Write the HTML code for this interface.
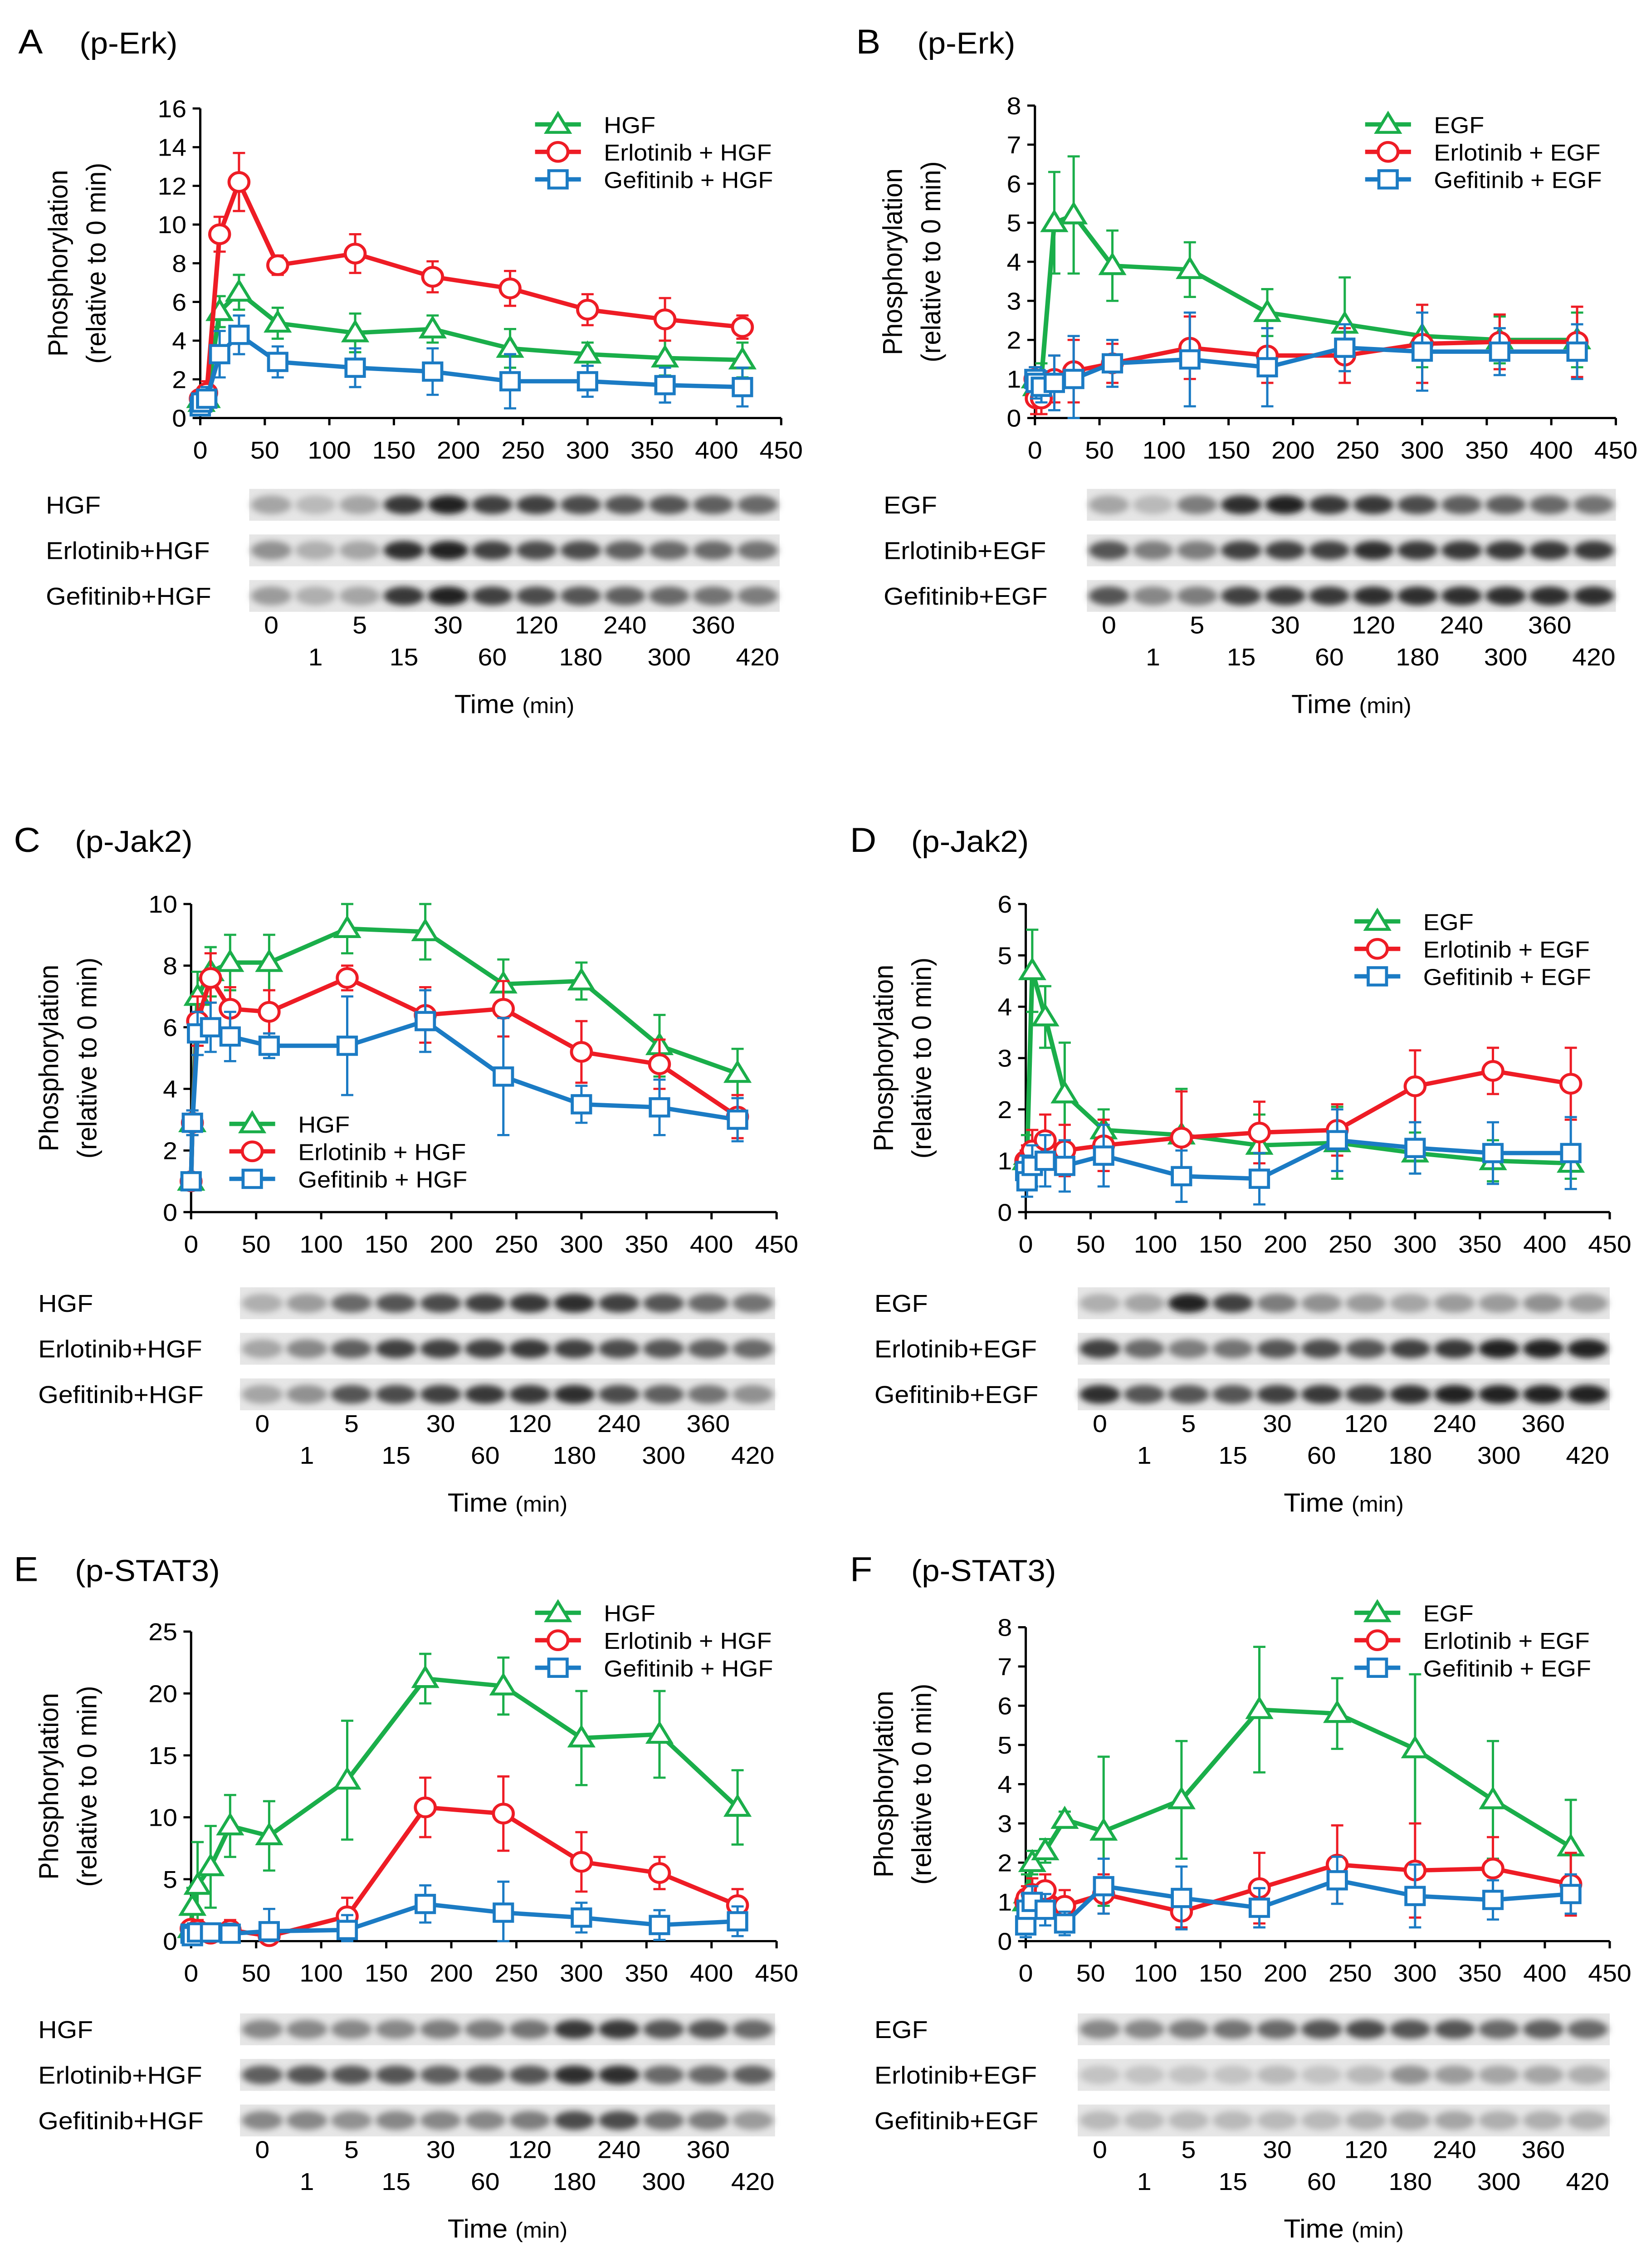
<!DOCTYPE html>
<html><head><meta charset="utf-8"><style>
html,body{margin:0;padding:0;background:#fff;width:100vw;height:100vh;overflow:hidden}
svg{display:block;position:fixed;left:0;top:0;width:100vw;height:100vh}
text{font-family:"Liberation Sans",Arial,sans-serif;fill:#000}
</style></head><body>
<svg id="fig" viewBox="0 0 1080 1568" preserveAspectRatio="none" xmlns="http://www.w3.org/2000/svg">
<defs><filter id="blur" x="-50%" y="-50%" width="200%" height="200%"><feGaussianBlur stdDeviation="2.2"/></filter></defs>
</svg>
<script>
const times=[0,1,5,15,30,60,120,180,240,300,360,420];
const xTicks=[0,50,100,150,200,250,300,350,400,450];
// Panel A
const aHGF=[1,0.8,1.0,5.5,6.5,4.9,4.4,4.6,3.6,3.3,3.1,3.0];
const aHGFerr=[0.3,0.4,0.5,0.8,0.9,0.8,1.0,0.7,1.0,0.6,0.9,0.9];
const aErl=[1,0.9,1.3,9.5,12.2,7.9,8.5,7.3,6.7,5.6,5.1,4.7];
const aErlerr=[0.3,0.4,0.6,0.9,1.5,0.5,1.0,0.8,0.9,0.8,1.1,0.6];
const aGef=[0.6,0.8,1.0,3.3,4.3,2.9,2.6,2.4,1.9,1.9,1.7,1.6];
const aGeferr=[0.4,0.5,0.6,1.2,1.0,0.8,1.0,1.2,1.4,0.8,0.9,1.0];
// Panel B
const bEGF=[1,0.8,1.0,5.0,5.2,3.9,3.8,2.7,2.4,2.1,2.0,2.0];
const bEGFerr=[0.2,0.3,0.4,1.3,1.5,0.9,0.7,0.6,1.2,0.8,0.6,0.7];
const bErl=[1,0.5,0.5,1.0,1.2,1.4,1.8,1.6,1.6,1.9,1.95,1.95];
const bErlerr=[0.3,0.4,0.4,0.6,0.8,0.5,0.8,0.7,0.7,1.0,0.7,0.9];
const bGef=[1,0.9,0.8,0.9,1.0,1.4,1.5,1.3,1.8,1.7,1.7,1.7];
const bGeferr=[0.3,0.4,0.4,0.7,1.1,0.6,1.2,1.0,0.6,1.0,0.6,0.7];
// Panel C
const cHGF=[1,2.9,7.0,7.8,8.1,8.1,9.2,9.1,7.4,7.5,5.4,4.5];
const cHGFerr=[0.1,0.4,0.8,0.8,0.9,0.9,0.8,0.9,0.8,0.6,1.0,0.8];
const cErl=[1,2.9,6.2,7.6,6.6,6.5,7.6,6.4,6.6,5.2,4.8,3.1];
const cErlerr=[0.1,0.4,0.8,0.8,0.7,0.7,0.4,0.9,0.9,1.0,0.8,0.7];
const cGef=[1,2.9,5.8,6.0,5.7,5.4,5.4,6.2,4.4,3.5,3.4,3.0];
const cGeferr=[0.1,0.4,0.7,0.8,0.8,0.4,1.6,1.0,1.9,0.6,0.9,0.7];
// Panel D
const dEGF=[1,1.1,4.7,3.8,2.3,1.6,1.5,1.3,1.35,1.15,1.0,0.95];
const dEGFerr=[0.2,0.4,0.8,0.6,1.0,0.4,0.9,0.6,0.7,0.4,0.4,0.3];
const dErl=[1,1.0,1.2,1.4,1.2,1.3,1.45,1.55,1.6,2.45,2.75,2.5];
const dErlerr=[0.2,0.3,0.4,0.5,0.5,0.5,0.9,0.6,0.5,0.7,0.45,0.7];
const dGef=[0.8,0.6,0.9,1.0,0.9,1.1,0.7,0.65,1.4,1.25,1.15,1.15];
const dGeferr=[0.3,0.3,0.4,0.5,0.5,0.6,0.5,0.5,0.6,0.5,0.6,0.7];
// Panel E
const eHGF=[1,2.8,4.5,6.0,9.3,8.5,13.0,21.2,20.6,16.4,16.7,10.8];
const eHGFerr=[0.5,1.5,3.5,3.3,2.5,2.8,4.8,2.0,2.3,3.8,3.5,3.0];
const eErl=[1,0.6,0.9,0.6,0.9,0.4,2.0,10.8,10.3,6.4,5.5,2.9];
const eErlerr=[0.5,0.6,0.8,0.6,0.8,0.5,1.5,2.4,3.0,2.4,1.3,1.3];
const eGef=[0.6,0.4,0.7,0.7,0.6,0.8,0.9,3.0,2.3,1.9,1.3,1.6];
const eGeferr=[0.4,0.4,0.6,0.7,0.8,1.8,1.2,1.5,2.5,1.2,1.2,1.2];
// Panel F
const fEGF=[1,1.2,2.0,2.3,3.1,2.8,3.6,5.9,5.8,4.9,3.6,2.4];
const fEGFerr=[0.3,0.5,0.3,0.3,0.2,1.9,1.5,1.6,0.9,1.9,1.5,1.2];
const fErl=[1,1.1,1.2,1.3,0.9,1.2,0.75,1.35,1.95,1.8,1.85,1.45];
const fErlerr=[0.3,0.3,0.4,0.4,0.4,0.5,0.4,0.9,1.0,1.2,0.8,0.8];
const fGef=[0.4,0.8,1.0,0.8,0.45,1.4,1.1,0.85,1.55,1.15,1.05,1.2];
const fGeferr=[0.3,0.4,0.4,0.4,0.3,0.7,0.8,0.5,0.6,0.8,0.5,0.5];
// Blot intensities (0 light - 1 dark)
const blotA=[[0.3,0.2,0.3,0.85,0.95,0.8,0.8,0.75,0.7,0.7,0.65,0.6],[0.4,0.25,0.3,0.9,0.95,0.8,0.75,0.75,0.65,0.6,0.6,0.55],[0.35,0.25,0.3,0.85,0.95,0.8,0.75,0.7,0.65,0.6,0.55,0.5]];
const blotB=[[0.3,0.2,0.5,0.9,0.95,0.85,0.85,0.75,0.65,0.65,0.6,0.55],[0.7,0.5,0.5,0.8,0.8,0.8,0.9,0.85,0.85,0.85,0.85,0.85],[0.7,0.45,0.5,0.8,0.85,0.85,0.9,0.9,0.9,0.9,0.9,0.9]];
const blotC=[[0.25,0.35,0.6,0.7,0.75,0.8,0.85,0.9,0.8,0.7,0.6,0.55],[0.3,0.45,0.65,0.8,0.8,0.8,0.85,0.8,0.75,0.7,0.65,0.6],[0.3,0.4,0.7,0.75,0.8,0.85,0.85,0.9,0.75,0.65,0.55,0.4]];
const blotD=[[0.25,0.3,0.95,0.8,0.5,0.4,0.35,0.3,0.35,0.35,0.4,0.35],[0.8,0.6,0.5,0.55,0.7,0.75,0.7,0.8,0.85,0.95,0.95,0.95],[0.9,0.7,0.7,0.7,0.8,0.85,0.8,0.9,0.95,0.95,0.95,0.95]];
const blotE=[[0.45,0.45,0.45,0.45,0.5,0.5,0.55,0.85,0.85,0.7,0.7,0.6],[0.65,0.7,0.7,0.7,0.65,0.65,0.7,0.9,0.9,0.6,0.6,0.65],[0.45,0.45,0.4,0.45,0.45,0.45,0.5,0.75,0.75,0.55,0.5,0.35]];
const blotF=[[0.45,0.45,0.5,0.55,0.6,0.7,0.75,0.7,0.7,0.6,0.65,0.6],[0.15,0.15,0.15,0.15,0.2,0.15,0.2,0.4,0.35,0.3,0.3,0.25],[0.2,0.2,0.2,0.2,0.2,0.2,0.25,0.3,0.3,0.25,0.25,0.25]];
const lanes1=["0","5","30","120","240","360"];
const lanes2=["1","15","60","180","300","420"];

const NS="http://www.w3.org/2000/svg";
const svg=document.getElementById('fig');
const COL={g:"#1aae4a",r:"#ee1c25",b:"#1b7bc4"};
function mk(tag,attrs,parent){const e=document.createElementNS(NS,tag);for(const k in attrs)e.setAttribute(k,attrs[k]);(parent||svg).appendChild(e);return e;}
function txt(s,x,y,size,anchor,parent){const t=mk('text',{x:x,y:y,'font-size':size,'text-anchor':anchor||'start'},parent);t.textContent=s;return t;}
function marker(type,x,y,c,g){
  if(type==='tri')return mk('polygon',{points:`${x},${y-7.5} ${x-7.5},${y+5.5} ${x+7.5},${y+5.5}`,fill:'#fff',stroke:c,'stroke-width':2},g);
  if(type==='cir')return mk('circle',{cx:x,cy:y,r:6.5,fill:'#fff',stroke:c,'stroke-width':2},g);
  return mk('rect',{x:x-6,y:y-6,width:12,height:12,fill:'#fff',stroke:c,'stroke-width':2},g);
}
function panel(p){
  const g=mk('g',{}); 
  
  const X=v=>p.x0+(p.x1-p.x0)*v/450, Y=v=>p.y0-(p.y0-p.y1)*v/p.ymax;
  const lt=txt(p.id,p.lx,p.ly,24,'start',g);
  
  const tt=txt(p.title,p.lx+40,p.ly,21,'start',g);
  
  const ax=mk('g',{},g); 
  mk('line',{x1:p.x0,y1:Y(0),x2:p.x0,y2:Y(p.ymax),stroke:'#000','stroke-width':1.5},ax);
  mk('line',{x1:p.x0,y1:Y(0),x2:p.x1,y2:Y(0),stroke:'#000','stroke-width':1.5},ax);
  for(let v=0;v<=p.ymax;v+=p.ystep){mk('line',{x1:p.x0-5,y1:Y(v),x2:p.x0,y2:Y(v),stroke:'#000','stroke-width':1.5},ax);
    const t=txt(String(v),p.x0-9,Y(v)+6,17,'end',ax);}
  xTicks.forEach(v=>{mk('line',{x1:X(v),y1:Y(0),x2:X(v),y2:Y(0)+5,stroke:'#000','stroke-width':1.5},ax);
    const t=txt(String(v),X(v),Y(0)+28,17,'middle',ax);});
  const yt=mk('text',{x:0,y:0,'font-size':18,'text-anchor':'middle',transform:`translate(${p.x0-87},${(Y(0)+Y(p.ymax))/2}) rotate(-90)`},ax);
  yt.textContent='Phosphorylation'; 
  const yt2=mk('text',{x:0,y:0,'font-size':18,'text-anchor':'middle',transform:`translate(${p.x0-62},${(Y(0)+Y(p.ymax))/2}) rotate(-90)`},ax);
  yt2.textContent='(relative to 0 min)'; 
  p.series.forEach(s=>{
    const sg=mk('g',{},g); 
    const c=COL[s.c];
    mk('polyline',{points:times.map((t,i)=>X(t)+','+Y(s.v[i])).join(' '),fill:'none',stroke:c,'stroke-width':3,'stroke-linejoin':'round'},sg);
    times.forEach((t,i)=>{const x=X(t),ya=Y(s.v[i]+s.e[i]),yb=Y(Math.max(0,s.v[i]-s.e[i]));
      mk('line',{x1:x,y1:ya,x2:x,y2:yb,stroke:c,'stroke-width':1.5},sg);
      mk('line',{x1:x-4,y1:ya,x2:x+4,y2:ya,stroke:c,'stroke-width':1.5},sg);
      mk('line',{x1:x-4,y1:yb,x2:x+4,y2:yb,stroke:c,'stroke-width':1.5},sg);});
    times.forEach((t,i)=>{const m=marker(s.m,X(t),Y(s.v[i]),c,sg);});
  });
  const lg=mk('g',{},g); 
  p.series.forEach((s,i)=>{const y=p.legY+i*19,c=COL[s.c];
    const e=mk('g',{},lg); 
    mk('line',{x1:p.legX,y1:y,x2:p.legX+30,y2:y,stroke:c,'stroke-width':3},e);
    marker(s.m,p.legX+15,y,c,e);
    txt(s.label,p.legX+45,y+6,16,'start',e);});
  const bg=mk('g',{},g); 
  const bw=(p.bx1-p.bx0)/12;
  p.blots.forEach((row,r)=>{const yc=p.by+r*31.5;
    const l=txt(p.blotLabels[r],p.blx,yc+6,17,'start',bg);
    mk('rect',{x:p.bx0,y:yc-11,width:p.bx1-p.bx0,height:22,fill:'#e6e6e6'},bg);
    row.forEach((v,i)=>{const sh=Math.round(225-200*v);
      mk('ellipse',{cx:p.bx0+bw*(i+0.5),cy:yc,rx:bw*0.46,ry:6.5,fill:`rgb(${sh},${sh},${sh})`,filter:'url(#blur)'},bg);});
  });
  const ly1=p.by+2*31.5+26;
  lanes1.forEach((s,i)=>{const t=txt(s,p.bx0+bw*(2*i+0.5),ly1,17,'middle',bg);});
  lanes2.forEach((s,i)=>{const t=txt(s,p.bx0+bw*(2*i+1.5),ly1+22,17,'middle',bg);});
  const tl=mk('text',{x:(p.bx0+p.bx1)/2,y:ly1+55,'font-size':18,'text-anchor':'middle'},bg);
  tl.innerHTML='Time <tspan font-size="15">(min)</tspan>'; 
}
const S=(a,ae,b,be,c,ce,lig)=>[
 {key:'ligand',c:'g',m:'tri',v:a,e:ae,label:lig},
 {key:'erlotinib',c:'r',m:'cir',v:b,e:be,label:'Erlotinib + '+lig},
 {key:'gefitinib',c:'b',m:'sq',v:c,e:ce,label:'Gefitinib + '+lig}];
const BL=l=>[l,'Erlotinib+'+l,'Gefitinib+'+l];
panel({id:'A',title:'(p-Erk)',lx:12,ly:37,x0:131,x1:511,y0:289,y1:75,ymax:16,ystep:2,series:S(aHGF,aHGFerr,aErl,aErlerr,aGef,aGeferr,'HGF'),legX:350,legY:86,blots:blotA,blotLabels:BL('HGF'),blx:30,bx0:163,bx1:510,by:349});
panel({id:'B',title:'(p-Erk)',lx:560,ly:37,x0:677,x1:1057,y0:289,y1:73,ymax:8,ystep:1,series:S(bEGF,bEGFerr,bErl,bErlerr,bGef,bGeferr,'EGF'),legX:893,legY:86,blots:blotB,blotLabels:BL('EGF'),blx:578,bx0:711,bx1:1057,by:349});
panel({id:'C',title:'(p-Jak2)',lx:9,ly:589,x0:125,x1:508,y0:838,y1:625,ymax:10,ystep:2,series:S(cHGF,cHGFerr,cErl,cErlerr,cGef,cGeferr,'HGF'),legX:150,legY:777,blots:blotC,blotLabels:BL('HGF'),blx:25,bx0:157,bx1:507,by:901});
panel({id:'D',title:'(p-Jak2)',lx:556,ly:589,x0:671,x1:1053,y0:838,y1:625,ymax:6,ystep:1,series:S(dEGF,dEGFerr,dErl,dErlerr,dGef,dGeferr,'EGF'),legX:886,legY:637,blots:blotD,blotLabels:BL('EGF'),blx:572,bx0:705,bx1:1053,by:901});
panel({id:'E',title:'(p-STAT3)',lx:9,ly:1093,x0:125,x1:508,y0:1342,y1:1128,ymax:25,ystep:5,series:S(eHGF,eHGFerr,eErl,eErlerr,eGef,eGeferr,'HGF'),legX:350,legY:1115,blots:blotE,blotLabels:BL('HGF'),blx:25,bx0:157,bx1:507,by:1403});
panel({id:'F',title:'(p-STAT3)',lx:556,ly:1093,x0:671,x1:1053,y0:1342,y1:1125,ymax:8,ystep:1,series:S(fEGF,fEGFerr,fErl,fErlerr,fGef,fGeferr,'EGF'),legX:886,legY:1115,blots:blotF,blotLabels:BL('EGF'),blx:572,bx0:705,bx1:1053,by:1403});
</script>
</body></html>
